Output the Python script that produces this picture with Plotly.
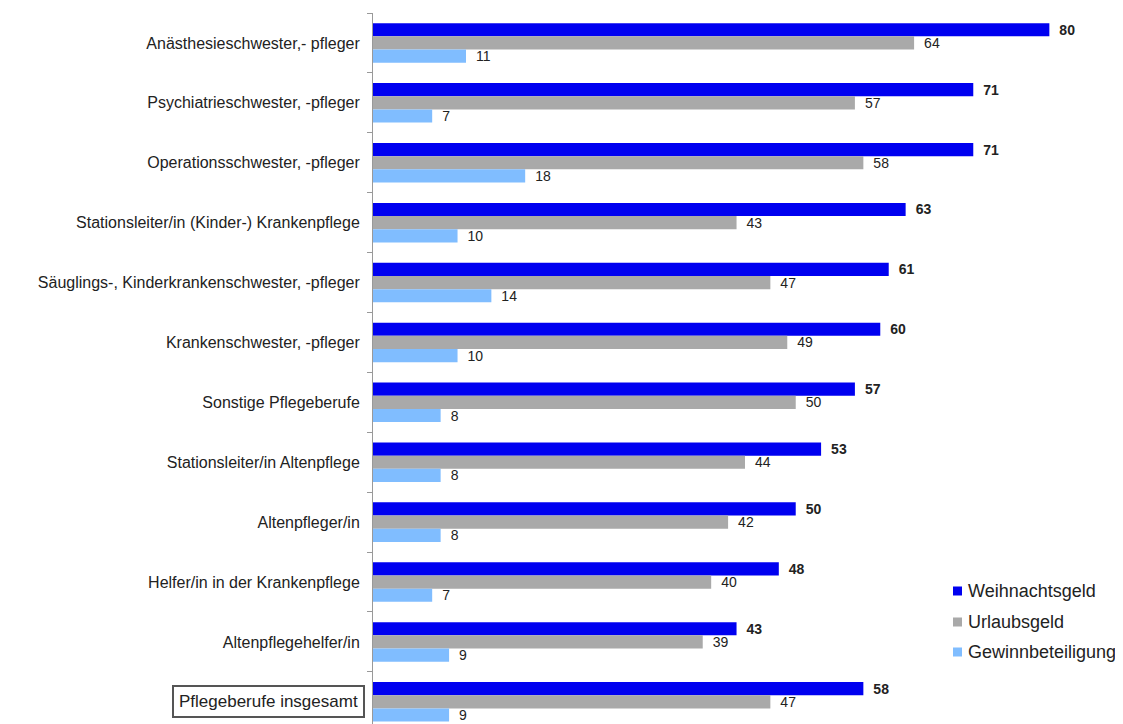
import plotly.graph_objects as go

categories = [
    "Anästhesieschwester,- pfleger",
    "Psychiatrieschwester, -pfleger",
    "Operationsschwester, -pfleger",
    "Stationsleiter/in (Kinder-) Krankenpflege",
    "Säuglings-, Kinderkrankenschwester, -pfleger",
    "Krankenschwester, -pfleger",
    "Sonstige Pflegeberufe",
    "Stationsleiter/in Altenpflege",
    "Altenpfleger/in",
    "Helfer/in in der Krankenpflege",
    "Altenpflegehelfer/in",
    "Pflegeberufe insgesamt",
]
weihnachtsgeld = [80, 71, 71, 63, 61, 60, 57, 53, 50, 48, 43, 58]
urlaubsgeld = [64, 57, 58, 43, 47, 49, 50, 44, 42, 40, 39, 47]
gewinnbeteiligung = [11, 7, 18, 10, 14, 10, 8, 8, 8, 7, 9, 9]

series = [
    ("Weihnachtsgeld", weihnachtsgeld, "#0000F0", True),
    ("Urlaubsgeld", urlaubsgeld, "#A9A9A9", False),
    ("Gewinnbeteiligung", gewinnbeteiligung, "#80BDFF", False),
]

# the page body adds an 8px offset; geometry is given in page pixels
OFF = 8
W, H = 1123 - OFF, 724 - OFF
L, R, T, B = 373 - OFF, 6, 13 - OFF, 0
PW, PH = W - L - R, H - T - B


def px_x(px):
    return (px - OFF - L) / PW


def px_y(py):
    return (H - B - (py - OFF)) / PH


fig = go.Figure()
for name, vals, color, bold in series:
    fig.add_trace(go.Bar(
        y=categories, x=vals, name=name, orientation="h",
        marker=dict(color=color, line=dict(width=0)),
        text=[f"\u2002<b>{v}</b>" if bold else f"\u2002{v}" for v in vals],
        textposition="outside", cliponaxis=False, constraintext="none",
        textfont=dict(family="Liberation Sans, Arial", size=14, color="#222222"),
        showlegend=False,
    ))

ticktext = [c if i < len(categories) - 1 else "" for i, c in enumerate(categories)]

fig.update_layout(
    width=W, height=H,
    margin=dict(l=L, r=R, t=T, b=B, autoexpand=False),
    paper_bgcolor="white", plot_bgcolor="white",
    barmode="group", bargap=0.34, bargroupgap=0,
    font=dict(family="Liberation Sans, Arial", color="#222222"),
    xaxis=dict(range=[0, 88], visible=False),
    yaxis=dict(
        type="category", range=[11.37, -0.5], automargin=False,
        tickmode="array", tickvals=categories, ticktext=ticktext,
        tickson="boundaries", ticks="outside", ticklen=5, tickcolor="#999999",
        ticklabelstandoff=9,
        showline=True, linecolor="#999999", linewidth=1,
        showgrid=False, tickfont=dict(size=16, color="#222222"),
    ),
    showlegend=False,
)

fig.add_annotation(
    x=px_x(365), xref="paper", y=categories[-1], yref="y",
    xanchor="right", yanchor="middle",
    text="Pflegeberufe insgesamt", showarrow=False,
    font=dict(size=17, color="#222222"),
    bordercolor="#555555", borderwidth=2, borderpad=5, bgcolor="white",
)

# manual legend
legend_y = [591, 622, 652]
for (name, vals, color, bold), ly in zip(series, legend_y):
    fig.add_shape(type="rect", xref="paper", yref="paper",
                  x0=px_x(953), x1=px_x(962), y0=px_y(ly + 4.5), y1=px_y(ly - 4.5),
                  fillcolor=color, line=dict(width=0))
    fig.add_annotation(x=px_x(966), y=px_y(ly), xref="paper", yref="paper",
                       xanchor="left", yanchor="middle", showarrow=False,
                       text=name, font=dict(size=18, color="#222222"))

fig.write_html("out.html")
